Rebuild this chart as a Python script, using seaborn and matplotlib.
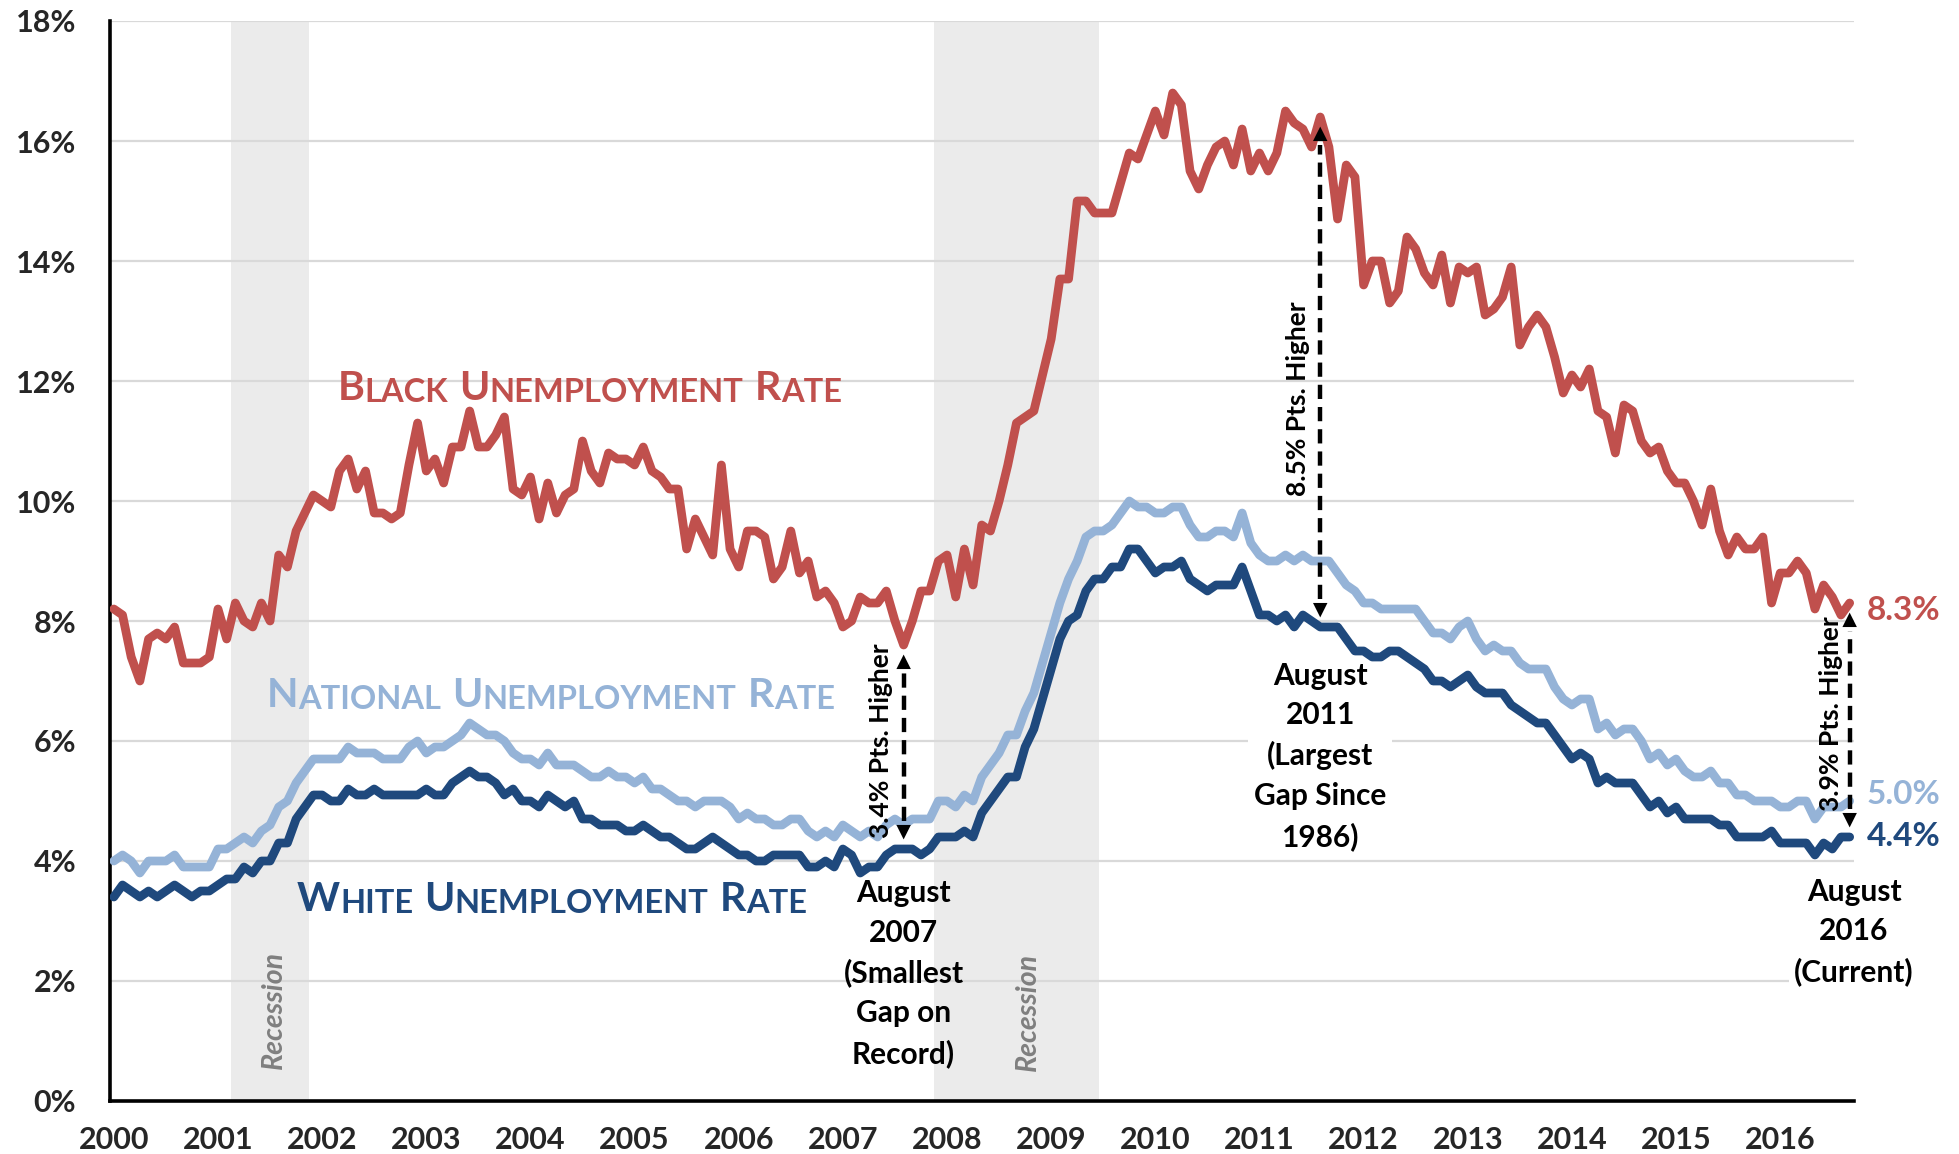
import numpy as np
import pandas as pd
import matplotlib
matplotlib.use("Agg")
import matplotlib.pyplot as plt
import seaborn as sns

# monthly unemployment rates, Jan 2000 .. Sep 2016 (201 months)
year_labels = [str(y) for y in range(2000, 2017)]

black_rate = [
    8.2, 8.1, 7.4, 7.0, 7.7, 7.8, 7.7, 7.9, 7.3, 7.3, 7.3, 7.4,          # 2000
    8.2, 7.7, 8.3, 8.0, 7.9, 8.3, 8.0, 9.1, 8.9, 9.5, 9.8, 10.1,         # 2001
    10.0, 9.9, 10.5, 10.7, 10.2, 10.5, 9.8, 9.8, 9.7, 9.8, 10.6, 11.3,   # 2002
    10.5, 10.7, 10.3, 10.9, 10.9, 11.5, 10.9, 10.9, 11.1, 11.4, 10.2, 10.1,  # 2003
    10.4, 9.7, 10.3, 9.8, 10.1, 10.2, 11.0, 10.5, 10.3, 10.8, 10.7, 10.7,    # 2004
    10.6, 10.9, 10.5, 10.4, 10.2, 10.2, 9.2, 9.7, 9.4, 9.1, 10.6, 9.2,       # 2005
    8.9, 9.5, 9.5, 9.4, 8.7, 8.9, 9.5, 8.8, 9.0, 8.4, 8.5, 8.3,              # 2006
    7.9, 8.0, 8.4, 8.3, 8.3, 8.5, 8.0, 7.6, 8.0, 8.5, 8.5, 9.0,              # 2007
    9.1, 8.4, 9.2, 8.6, 9.6, 9.5, 10.0, 10.6, 11.3, 11.4, 11.5, 12.1,        # 2008
    12.7, 13.7, 13.7, 15.0, 15.0, 14.8, 14.8, 14.8, 15.3, 15.8, 15.7, 16.1,  # 2009
    16.5, 16.1, 16.8, 16.6, 15.5, 15.2, 15.6, 15.9, 16.0, 15.6, 16.2, 15.5,  # 2010
    15.8, 15.5, 15.8, 16.5, 16.3, 16.2, 15.9, 16.4, 15.9, 14.7, 15.6, 15.4,  # 2011
    13.6, 14.0, 14.0, 13.3, 13.5, 14.4, 14.2, 13.8, 13.6, 14.1, 13.3, 13.9,  # 2012
    13.8, 13.9, 13.1, 13.2, 13.4, 13.9, 12.6, 12.9, 13.1, 12.9, 12.4, 11.8,  # 2013
    12.1, 11.9, 12.2, 11.5, 11.4, 10.8, 11.6, 11.5, 11.0, 10.8, 10.9, 10.5,  # 2014
    10.3, 10.3, 10.0, 9.6, 10.2, 9.5, 9.1, 9.4, 9.2, 9.2, 9.4, 8.3,          # 2015
    8.8, 8.8, 9.0, 8.8, 8.2, 8.6, 8.4, 8.1, 8.3,                             # 2016
]

national_rate = [
    4.0, 4.1, 4.0, 3.8, 4.0, 4.0, 4.0, 4.1, 3.9, 3.9, 3.9, 3.9,
    4.2, 4.2, 4.3, 4.4, 4.3, 4.5, 4.6, 4.9, 5.0, 5.3, 5.5, 5.7,
    5.7, 5.7, 5.7, 5.9, 5.8, 5.8, 5.8, 5.7, 5.7, 5.7, 5.9, 6.0,
    5.8, 5.9, 5.9, 6.0, 6.1, 6.3, 6.2, 6.1, 6.1, 6.0, 5.8, 5.7,
    5.7, 5.6, 5.8, 5.6, 5.6, 5.6, 5.5, 5.4, 5.4, 5.5, 5.4, 5.4,
    5.3, 5.4, 5.2, 5.2, 5.1, 5.0, 5.0, 4.9, 5.0, 5.0, 5.0, 4.9,
    4.7, 4.8, 4.7, 4.7, 4.6, 4.6, 4.7, 4.7, 4.5, 4.4, 4.5, 4.4,
    4.6, 4.5, 4.4, 4.5, 4.4, 4.6, 4.7, 4.6, 4.7, 4.7, 4.7, 5.0,
    5.0, 4.9, 5.1, 5.0, 5.4, 5.6, 5.8, 6.1, 6.1, 6.5, 6.8, 7.3,
    7.8, 8.3, 8.7, 9.0, 9.4, 9.5, 9.5, 9.6, 9.8, 10.0, 9.9, 9.9,
    9.8, 9.8, 9.9, 9.9, 9.6, 9.4, 9.4, 9.5, 9.5, 9.4, 9.8, 9.3,
    9.1, 9.0, 9.0, 9.1, 9.0, 9.1, 9.0, 9.0, 9.0, 8.8, 8.6, 8.5,
    8.3, 8.3, 8.2, 8.2, 8.2, 8.2, 8.2, 8.0, 7.8, 7.8, 7.7, 7.9,
    8.0, 7.7, 7.5, 7.6, 7.5, 7.5, 7.3, 7.2, 7.2, 7.2, 6.9, 6.7,
    6.6, 6.7, 6.7, 6.2, 6.3, 6.1, 6.2, 6.2, 6.0, 5.7, 5.8, 5.6,
    5.7, 5.5, 5.4, 5.4, 5.5, 5.3, 5.3, 5.1, 5.1, 5.0, 5.0, 5.0,
    4.9, 4.9, 5.0, 5.0, 4.7, 4.9, 4.9, 4.9, 5.0,
]

white_rate = [
    3.4, 3.6, 3.5, 3.4, 3.5, 3.4, 3.5, 3.6, 3.5, 3.4, 3.5, 3.5,
    3.6, 3.7, 3.7, 3.9, 3.8, 4.0, 4.0, 4.3, 4.3, 4.7, 4.9, 5.1,
    5.1, 5.0, 5.0, 5.2, 5.1, 5.1, 5.2, 5.1, 5.1, 5.1, 5.1, 5.1,
    5.2, 5.1, 5.1, 5.3, 5.4, 5.5, 5.4, 5.4, 5.3, 5.1, 5.2, 5.0,
    5.0, 4.9, 5.1, 5.0, 4.9, 5.0, 4.7, 4.7, 4.6, 4.6, 4.6, 4.5,
    4.5, 4.6, 4.5, 4.4, 4.4, 4.3, 4.2, 4.2, 4.3, 4.4, 4.3, 4.2,
    4.1, 4.1, 4.0, 4.0, 4.1, 4.1, 4.1, 4.1, 3.9, 3.9, 4.0, 3.9,
    4.2, 4.1, 3.8, 3.9, 3.9, 4.1, 4.2, 4.2, 4.2, 4.1, 4.2, 4.4,
    4.4, 4.4, 4.5, 4.4, 4.8, 5.0, 5.2, 5.4, 5.4, 5.9, 6.2, 6.7,
    7.2, 7.7, 8.0, 8.1, 8.5, 8.7, 8.7, 8.9, 8.9, 9.2, 9.2, 9.0,
    8.8, 8.9, 8.9, 9.0, 8.7, 8.6, 8.5, 8.6, 8.6, 8.6, 8.9, 8.5,
    8.1, 8.1, 8.0, 8.1, 7.9, 8.1, 8.0, 7.9, 7.9, 7.9, 7.7, 7.5,
    7.5, 7.4, 7.4, 7.5, 7.5, 7.4, 7.3, 7.2, 7.0, 7.0, 6.9, 7.0,
    7.1, 6.9, 6.8, 6.8, 6.8, 6.6, 6.5, 6.4, 6.3, 6.3, 6.1, 5.9,
    5.7, 5.8, 5.7, 5.3, 5.4, 5.3, 5.3, 5.3, 5.1, 4.9, 5.0, 4.8,
    4.9, 4.7, 4.7, 4.7, 4.7, 4.6, 4.6, 4.4, 4.4, 4.4, 4.4, 4.5,
    4.3, 4.3, 4.3, 4.3, 4.1, 4.3, 4.2, 4.4, 4.4,
]

# recessions as (first month, last month) index
recessions = [(14, 22), (95, 113)]

RED = "#C0504D"
LIGHT = "#95B3D7"
DARK = "#1F497D"

months = np.arange(len(black_rate))
df = pd.DataFrame({
    "month": np.concatenate([months, months, months]),
    "rate": national_rate + white_rate + black_rate,
    "series": ["National"] * len(months) + ["White"] * len(months) + ["Black"] * len(months),
})

sns.set_style("white")
plt.rcParams["font.family"] = ["Lato", "DejaVu Sans"]
plt.rcParams["font.weight"] = "bold"

fig = plt.figure(figsize=(19.59, 11.54), dpi=100)
ax = fig.add_axes([109.5 / 1959, 1 - 1101 / 1154, (1854 - 109.5) / 1959, (1101 - 21) / 1154])

for s, e in recessions:
    ax.axvspan(s - 0.5, e + 0.5, color="#EBEBEB", lw=0, zorder=0)

sns.lineplot(data=df, x="month", y="rate", hue="series",
             hue_order=["National", "White", "Black"],
             palette={"National": LIGHT, "White": DARK, "Black": RED},
             linewidth=6.3, legend=False, ax=ax, sort=False,
             solid_joinstyle="round", solid_capstyle="round", zorder=3)

ax.set_xlim(-0.5, 200.5)
ax.set_ylim(0, 18)
ax.set_xlabel("")
ax.set_ylabel("")

ax.set_yticks(np.arange(0, 19, 2))
ax.set_yticklabels([f"{v}%" for v in range(0, 19, 2)])
ax.set_xticks(np.arange(0, 201, 12))
ax.set_xticklabels(year_labels)
ax.set_xticks(np.arange(-0.5, 201, 12), minor=True)
ax.tick_params(axis="x", which="major", length=0, pad=18, labelsize=22)
ax.tick_params(axis="x", which="minor", direction="in", length=10, width=2, color="black")
ax.tick_params(axis="y", direction="in", length=9, width=2, color="black", pad=24, labelsize=22)
for lab in ax.get_xticklabels() + ax.get_yticklabels():
    lab.set_fontweight("bold")

ax.yaxis.grid(True, color="#D9D9D9", lw=1.6)
ax.xaxis.grid(False)
ax.set_axisbelow(True)
for side in ["top", "right"]:
    ax.spines[side].set_visible(False)
for side in ["left", "bottom"]:
    ax.spines[side].set_color("black")
    ax.spines[side].set_linewidth(2.6)


def small_caps(x, y, parts, color):
    prev = ax.text(x, y, parts[0][0], fontsize=parts[0][1], color=color,
                   fontweight="bold", va="baseline", ha="left")
    for txt, size, gap in parts[1:]:
        prev = ax.annotate(txt, xy=(1, 0), xycoords=prev, xytext=(gap, 0),
                           textcoords="offset points", fontsize=size, color=color,
                           fontweight="bold", va="bottom", ha="left")


BIG, SMALL = 29.5, 23.5
small_caps(25.8, 11.68, [("B", BIG), ("LACK", SMALL, 0), ("U", BIG, 8), ("NEMPLOYMENT", SMALL, 0),
                         ("R", BIG, 8), ("ATE", SMALL, 0)], RED)
small_caps(17.6, 6.57, [("N", BIG), ("ATIONAL", SMALL, 0), ("U", BIG, 8), ("NEMPLOYMENT", SMALL, 0),
                        ("R", BIG, 8), ("ATE", SMALL, 0)], LIGHT)
small_caps(21.1, 3.17, [("W", BIG), ("HITE", SMALL, 0), ("U", BIG, 8), ("NEMPLOYMENT", SMALL, 0),
                        ("R", BIG, 8), ("ATE", SMALL, 0)], DARK)

# gap arrows
gaps = [(91, "3.4% Pts. Higher", 88.4, 6.0),
        (139, "8.5% Pts. Higher", 136.4, 11.7),
        (200, "3.9% Pts. Higher", 197.8, 6.45)]
for idx, label, tx, ty in gaps:
    top = black_rate[idx] - 0.16
    bot = white_rate[idx] + 0.16
    ax.plot([idx, idx], [bot + 0.3, top - 0.3], color="black", lw=3.2, ls=(0, (3.2, 1.8)),
            zorder=4, clip_on=False)
    for tip, tail in [(top, top - 0.4), (bot, bot + 0.4)]:
        ax.annotate("", xy=(idx, tip), xytext=(idx, tail),
                    arrowprops=dict(arrowstyle="-|>", color="black", lw=0,
                                    mutation_scale=26, shrinkA=0, shrinkB=0),
                    zorder=4, annotation_clip=False)
    ax.text(tx, ty, label, rotation=90, fontsize=19, fontweight="bold",
            ha="center", va="center", color="black", zorder=4)

notes = [(91, 3.7, "August\n2007\n(Smallest\nGap on\nRecord)", False),
         (139, 7.32, "August\n2011\n(Largest\nGap Since\n1986)", True),
         (200.5, 3.72, "August\n2016\n(Current)", True)]
for x, y, txt, boxed in notes:
    kw = {}
    if boxed:
        kw["bbox"] = dict(facecolor="white", edgecolor="none", pad=4)
    ax.text(x, y, txt, fontsize=21.5, fontweight="bold", ha="center", va="top",
            linespacing=1.5, color="black", zorder=1.5, clip_on=False, **kw)

for x, y in [(18.4, 1.52), (105.3, 1.48)]:
    ax.text(x, y, "Recession", rotation=90, fontsize=20.5, fontweight="bold",
            style="italic", color="#7F7F7F", ha="center", va="center", zorder=1)

# current values at the end of the lines
for y, txt, c in [(8.17, "8.3%", RED), (5.1, "5.0%", LIGHT), (4.4, "4.4%", DARK)]:
    ax.text(202.0, y, txt, fontsize=24, fontweight="bold", color=c,
            ha="left", va="center", clip_on=False)

fig.savefig("out.png", dpi=100)
